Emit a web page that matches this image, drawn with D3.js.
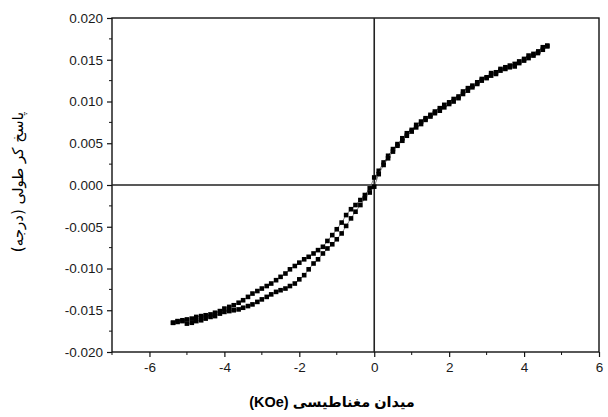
<html>
    <head>
        <style>
            body {
                background-color: white;
                margin: 0;
                padding: 0;
            }
            svg {
                display: block;
            }
        </style>
    <script src="https://cdn.jsdelivr.net/npm/d3@7"></script>
    </head>
    <body>

        <svg width="608" height="417"></svg>

        <script>

            // descending branch (from +H to -H)
            const fieldDown = [4.62, 4.50, 4.38, 4.25, 4.12, 4.00, 3.87, 3.75, 3.62, 3.50, 3.37, 3.25, 3.12, 3.00,
                2.87, 2.75, 2.62, 2.50, 2.37, 2.25, 2.12, 2.00, 1.87, 1.75, 1.62, 1.50, 1.37, 1.25, 1.12, 1.00,
                0.87, 0.75, 0.62, 0.50, 0.37, 0.25, 0.12, 0.00, -0.12, -0.25, -0.37, -0.50, -0.62, -0.75, -0.87,
                -1.00, -1.12, -1.25, -1.37, -1.50, -1.62, -1.75, -1.87, -2.00, -2.12, -2.25, -2.37, -2.50, -2.62,
                -2.75, -2.87, -3.00, -3.12, -3.25, -3.37, -3.50, -3.62, -3.75, -3.87, -4.00, -4.12, -4.25, -4.37,
                -4.50, -4.62, -4.75, -4.87, -5.00, -5.12, -5.25, -5.37];
            const kerrDown = [0.0166, 0.0165, 0.0160, 0.0157, 0.0155, 0.0151, 0.0148, 0.0145, 0.0143, 0.0141, 0.0139, 0.0135, 0.0134, 0.0129,
                0.0127, 0.0123, 0.0119, 0.0116, 0.0112, 0.0106, 0.0103, 0.0099, 0.0096, 0.0092, 0.0088, 0.0084, 0.0080, 0.0076, 0.0072, 0.0066,
                0.0062, 0.0056, 0.0049, 0.0043, 0.0035, 0.0027, 0.0017, 0.0009, -0.0004, -0.0012, -0.0018, -0.0024, -0.0029, -0.0036, -0.0045,
                -0.0053, -0.0060, -0.0067, -0.0074, -0.0078, -0.0082, -0.0086, -0.0089, -0.0093, -0.0097, -0.0101, -0.0106, -0.0110, -0.0114,
                -0.0118, -0.0121, -0.0124, -0.0127, -0.0130, -0.0134, -0.0138, -0.0141, -0.0144, -0.0146, -0.0148, -0.0151, -0.0153, -0.0155,
                -0.0156, -0.0157, -0.0158, -0.0160, -0.0161, -0.0162, -0.0163, -0.0165];

            // ascending branch (from -H to +H)
            const fieldUp = [-5.37, -5.25, -5.12, -5.00, -4.87, -4.75, -4.62, -4.50, -4.37, -4.25, -4.12, -4.00, -3.87, -3.75,
                -3.62, -3.50, -3.37, -3.25, -3.12, -3.00, -2.87, -2.75, -2.62, -2.50, -2.37, -2.25, -2.12, -2.00, -1.87,
                -1.75, -1.62, -1.50, -1.37, -1.25, -1.12, -1.00, -0.87, -0.75, -0.62, -0.50, -0.37, -0.25, -0.12, 0.00,
                0.12, 0.25, 0.37, 0.50, 0.62, 0.75, 0.87, 1.00, 1.12, 1.25, 1.37, 1.50, 1.62, 1.75, 1.87, 2.00, 2.12,
                2.25, 2.37, 2.50, 2.62, 2.75, 2.87, 3.00, 3.12, 3.25, 3.37, 3.50, 3.62, 3.75, 3.87, 4.00, 4.12, 4.25,
                4.37, 4.50, 4.62];
            const kerrUp = [-0.0165, -0.0164, -0.0163, -0.0166, -0.0165, -0.0163, -0.0162, -0.0160, -0.0158, -0.0157, -0.0154, -0.0152, -0.0151, -0.0150,
                -0.0149, -0.0147, -0.0145, -0.0143, -0.0140, -0.0137, -0.0134, -0.0131, -0.0128, -0.0126, -0.0124, -0.0121, -0.0118, -0.0113, -0.0108,
                -0.0101, -0.0094, -0.0089, -0.0082, -0.0076, -0.0071, -0.0065, -0.0058, -0.0049, -0.0040, -0.0032, -0.0024, -0.0016, -0.0009, -0.0002,
                0.0013, 0.0024, 0.0032, 0.0040, 0.0047, 0.0053, 0.0059, 0.0064, 0.0069, 0.0073, 0.0078, 0.0082, 0.0086, 0.0089, 0.0093, 0.0097, 0.0100,
                0.0104, 0.0109, 0.0113, 0.0117, 0.0121, 0.0125, 0.0128, 0.0131, 0.0133, 0.0137, 0.0139, 0.0141, 0.0142, 0.0146, 0.0149, 0.0152, 0.0155,
                0.0158, 0.0162, 0.0167];

            const xTicks = [-6, -4, -2, 0, 2, 4, 6];
            const xMinor = [-7, -5, -3, -1, 1, 3, 5];
            const yTicks = [-0.020, -0.015, -0.010, -0.005, 0.000, 0.005, 0.010, 0.015, 0.020];
            const yMinor = [-0.0175, -0.0125, -0.0075, -0.0025, 0.0025, 0.0075, 0.0125, 0.0175];

            const xLabel = "میدان مغناطیسی (KOe)";
            const yLabel = "پاسخ کر طولی (درجه)";

            const svg = d3.select("svg");

            const plotLeft = 112, plotRight = 599, plotTop = 18, plotBottom = 352;

            const x = d3.scaleLinear().domain([-7, 6]).range([plotLeft, plotRight]);
            const y = d3.scaleLinear().domain([-0.02, 0.02]).range([plotBottom, plotTop]);

            const tickFont = "Liberation Sans, Arial, sans-serif";

            // bottom axis
            let xAxis = svg.append("g")
                .attr("transform", `translate(0, ${plotBottom})`)
                .call(d3.axisBottom(x).tickValues(xTicks).tickSize(5).tickPadding(5));
            xAxis.append("g").selectAll("line").data(xMinor).join("line")
                .attr("x1", d => x(d)).attr("x2", d => x(d))
                .attr("y1", 0).attr("y2", 3)
                .attr("stroke", "#111");

            // left axis
            let yAxis = svg.append("g")
                .attr("transform", `translate(${plotLeft}, 0)`)
                .call(d3.axisLeft(y).tickValues(yTicks).tickSize(5).tickPadding(4));
            yAxis.append("g").selectAll("line").data(yMinor).join("line")
                .attr("y1", d => y(d)).attr("y2", d => y(d))
                .attr("x1", 0).attr("x2", -3)
                .attr("stroke", "#111");

            svg.selectAll(".domain").remove();
            svg.selectAll(".tick line").attr("stroke", "#111").attr("stroke-width", 1.2);
            svg.selectAll(".tick text")
                .attr("font-family", tickFont)
                .attr("font-size", "13.5px")
                .attr("fill", "#1a1a1a");
            // plain hyphen minus like the original
            yAxis.selectAll(".tick text").text(d => d.toFixed(3));
            xAxis.selectAll(".tick text").text(d => String(d));

            // frame
            svg.append("rect")
                .attr("x", plotLeft).attr("y", plotTop)
                .attr("width", plotRight - plotLeft).attr("height", plotBottom - plotTop)
                .attr("fill", "none")
                .attr("stroke", "#111")
                .attr("stroke-width", 1.4);

            // zero cross lines
            svg.append("line")
                .attr("x1", x(0)).attr("x2", x(0))
                .attr("y1", plotTop).attr("y2", plotBottom)
                .attr("stroke", "#222").attr("stroke-width", 1.6);
            svg.append("line")
                .attr("x1", plotLeft).attr("x2", plotRight)
                .attr("y1", y(0)).attr("y2", y(0))
                .attr("stroke", "#222").attr("stroke-width", 1.6);

            // data branches
            let branches = [
                d3.zip(fieldDown, kerrDown),
                d3.zip(fieldUp, kerrUp)
            ];

            let line = d3.line().x(d => x(d[0])).y(d => y(d[1]));

            let plot = svg.append("g");
            branches.forEach(function(pts) {
                plot.append("path")
                    .attr("d", line(pts))
                    .attr("fill", "none")
                    .attr("stroke", "#666")
                    .attr("stroke-width", 0.8);
                plot.append("g").selectAll("rect").data(pts).join("rect")
                    .attr("x", d => x(d[0]) - 2.3)
                    .attr("y", d => y(d[1]) - 2.3)
                    .attr("width", 4.6)
                    .attr("height", 4.6)
                    .attr("fill", "black");
            });

            // axis titles (latin part in Liberation, arabic falls back to DejaVu)
            svg.append("text")
                .attr("x", 332)
                .attr("y", 407)
                .attr("font-family", "Liberation Sans, DejaVu Sans, sans-serif")
                .attr("font-weight", "bold")
                .attr("font-size", "14.5px")
                .attr("text-anchor", "middle")
                .style("direction", "rtl")
                .attr("fill", "black")
                .text(xLabel);

            svg.append("text")
                .attr("transform", `translate(23, 182) rotate(-90)`)
                .attr("font-family", "DejaVu Sans, sans-serif")
                .attr("font-size", "15px")
                .attr("text-anchor", "middle")
                .style("direction", "rtl")
                .attr("fill", "black")
                .text(yLabel);

        </script>

    </body>
</html>
